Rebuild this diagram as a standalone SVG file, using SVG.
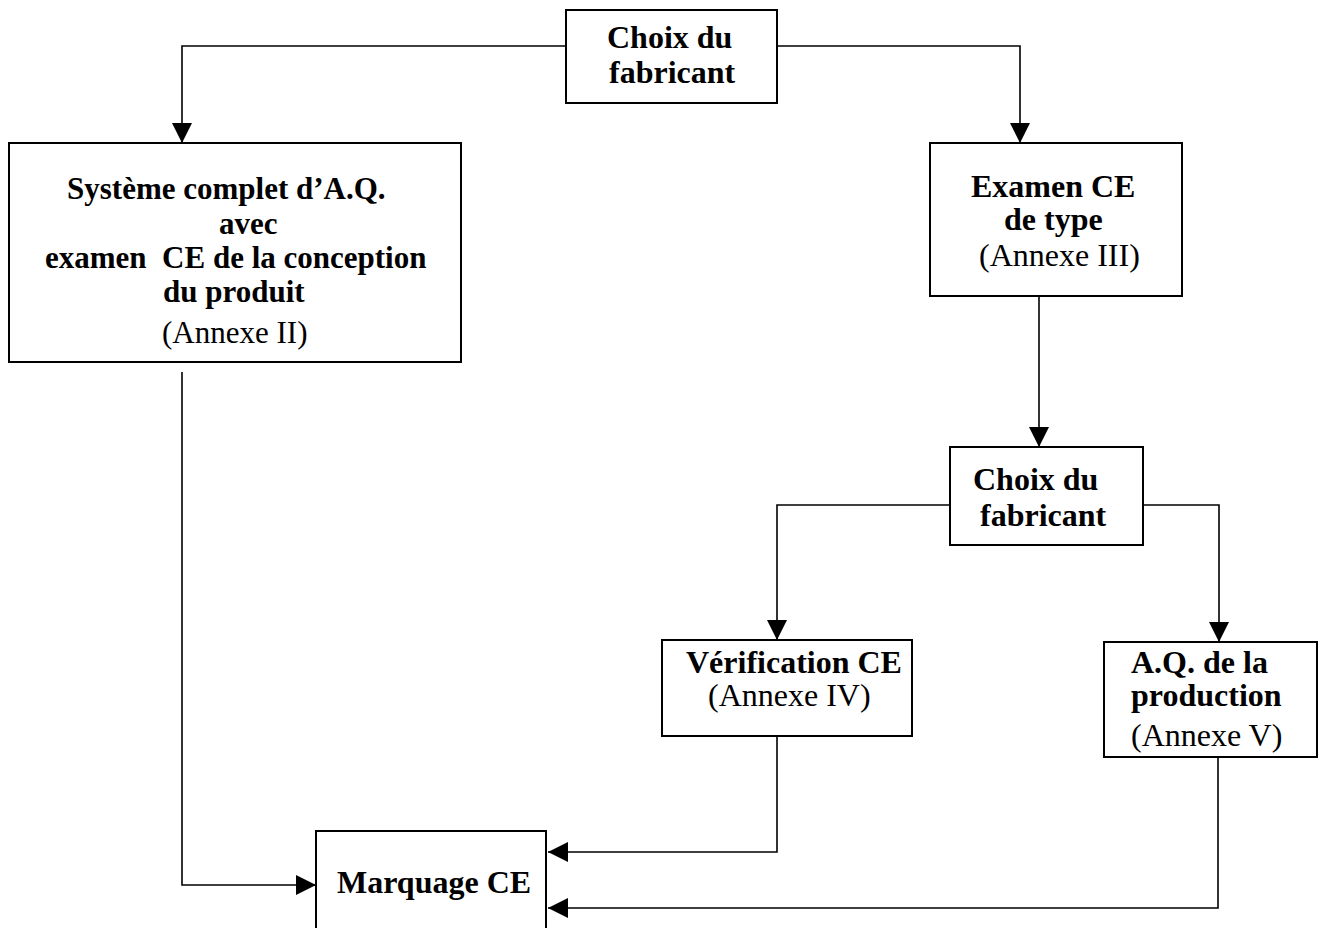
<svg xmlns="http://www.w3.org/2000/svg" width="1318" height="928" viewBox="0 0 1318 928">
<defs>
<style>
.box{fill:#fff;stroke:#000;stroke-width:2}
.b{font-family:"Liberation Serif","Times New Roman",serif;font-weight:bold;font-size:32px;fill:#000;white-space:pre}
.n{font-family:"Liberation Serif","Times New Roman",serif;font-weight:normal;font-size:32px;fill:#000;white-space:pre}
.s{font-size:31px}
.c{fill:none;stroke:#000;stroke-width:1.6}
</style>
<marker id="ah" markerUnits="userSpaceOnUse" markerWidth="20" markerHeight="20" refX="20" refY="10" orient="auto" viewBox="0 0 20 20">
<path d="M0,0 L20,10 L0,20 z" fill="#000"/>
</marker>
</defs>
<rect width="1318" height="928" fill="#fff"/>
<g id="connectors">
<path class="c" d="M566,46 H182 V143" marker-end="url(#ah)"/>
<path class="c" d="M777,46 H1020 V143" marker-end="url(#ah)"/>
<path class="c" d="M182,372 V885 H316" marker-end="url(#ah)"/>
<path class="c" d="M1039,290 V447" marker-end="url(#ah)"/>
<path class="c" d="M950,505 H777 V640" marker-end="url(#ah)"/>
<path class="c" d="M1143,505 H1219 V642" marker-end="url(#ah)"/>
<path class="c" d="M777,736 V852 H548" marker-end="url(#ah)"/>
<path class="c" d="M1218,757 V908 H548" marker-end="url(#ah)"/>
</g>
<g id="choix1">
<rect class="box" x="566" y="10" width="211" height="93"/>
<text class="b" x="607" y="48">Choix du</text>
<text class="b" x="609" y="83">fabricant</text>
</g>
<g id="systeme">
<rect class="box" x="9" y="143" width="452" height="219"/>
<text class="b s" x="67" y="199">Système complet d’A.Q.</text>
<text class="b s" x="219" y="233.5">avec</text>
<text class="b s" x="45" y="268">examen  CE de la conception</text>
<text class="b s" x="163" y="302">du produit</text>
<text class="n s" x="162" y="343">(Annexe II)</text>
</g>
<g id="examen">
<rect class="box" x="930" y="143" width="252" height="153"/>
<text class="b" x="971" y="197">Examen CE</text>
<text class="b" x="1004" y="230">de type</text>
<text class="n" x="979" y="266">(Annexe III)</text>
</g>
<g id="choix2">
<rect class="box" x="950" y="447" width="193" height="98"/>
<text class="b" x="973" y="490">Choix du</text>
<text class="b" x="980" y="526">fabricant</text>
</g>
<g id="verification">
<rect class="box" x="662" y="640" width="250" height="96"/>
<text class="b" x="686" y="673">Vérification CE</text>
<text class="n" x="708" y="706">(Annexe IV)</text>
</g>
<g id="aq">
<rect class="box" x="1104" y="642" width="213" height="115"/>
<text class="b" x="1131" y="673">A.Q. de la</text>
<text class="b" x="1131" y="706">production</text>
<text class="n" x="1131" y="746">(Annexe V)</text>
</g>
<g id="marquage">
<rect class="box" x="316" y="831" width="230" height="110"/>
<text class="b" x="337" y="893">Marquage CE</text>
</g>
</svg>
